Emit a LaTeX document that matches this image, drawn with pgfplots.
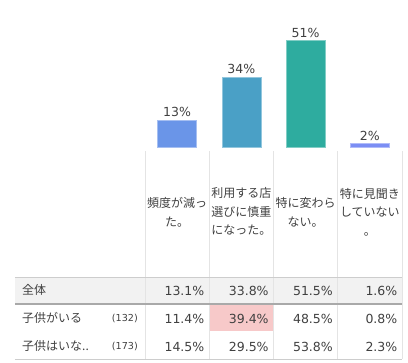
\documentclass[border=0pt]{standalone}
\usepackage{fontspec}
\setmainfont{DejaVu Sans}
\newfontfamily\jp{Noto Sans CJK JP}
\usepackage{pgfplots}
\pgfplotsset{compat=1.18}
\definecolor{cA}{HTML}{6A95E8}
\definecolor{cB}{HTML}{4AA0C6}
\definecolor{cC}{HTML}{2EAC9F}
\definecolor{cD}{HTML}{7B8EF4}
\definecolor{txt}{HTML}{404040}
\definecolor{gridc}{HTML}{E4E4E4}
\definecolor{rowbg}{HTML}{F2F2F2}
\definecolor{pinkc}{HTML}{F7C9C9}
\definecolor{thickc}{HTML}{A9A9A9}
\begin{document}
\begin{tikzpicture}
\begin{axis}[scale only axis, width=257pt, height=147pt,
  xmin=-0.5, xmax=3.5, ymin=0, ymax=70.74, hide axis, clip=false,
  nodes near coords, point meta=explicit symbolic,
  every node near coord/.append style={font=\fontsize{12.5}{15}\selectfont, text=txt, anchor=south, inner sep=2.5pt},
  ]
\addplot[ybar, bar width=39pt, bar shift=0pt, fill=cA, draw=cA!60!white] coordinates {(0,13.1) [13\%]};
\addplot[ybar, bar width=39pt, bar shift=0pt, fill=cB, draw=cB!60!white] coordinates {(1,33.8) [34\%]};
\addplot[ybar, bar width=39pt, bar shift=0pt, fill=cC, draw=cC!60!white] coordinates {(2,51.5) [51\%]};
\addplot[ybar, bar width=39pt, bar shift=0pt, fill=cD, draw=cD!60!white] coordinates {(3,1.6) [2\%]};
\coordinate (O) at (axis cs:-0.5,0);
\end{axis}
\begin{scope}[shift={(O)}, xshift=-145pt, yshift=147pt, x=1pt, y=-1pt]
  \path (0,0) rectangle (408,363);
  % row backgrounds
  \fill[rowbg] (15,277) rectangle (402,303.5);
  \fill[pinkc] (209.25,305) rectangle (273.5,331.5);
  % vertical separators
  \foreach \xx in {145,209.25,273.5,337.75,402}
    \draw[gridc, line width=0.8pt] (\xx,151) -- (\xx,359);
  % horizontal lines
  \draw[gridc!90!black, line width=0.8pt] (15,277) -- (402,277);
  \draw[thickc, line width=1.6pt] (15,303.8) -- (402,303.8);
  \draw[gridc!90!black, line width=0.8pt] (15,359) -- (402,359);
  % category labels
  \tikzset{cat/.style={align=center, text=txt, font=\jp\fontsize{12}{18.5}\selectfont, inner sep=0pt}}
  \node[cat] at (177.1,212.5) {頻度が減っ\\た。};
  \node[cat] at (241.4,211.5) {利用する店\\選びに慎重\\になった。};
  \node[cat] at (305.6,212.5) {特に変わら\\ない。};
  \node[cat] at (369.9,212) {特に見聞き\\していない\\。};
  % row labels
  \tikzset{rl/.style={anchor=west, text=txt, font=\jp\fontsize{12}{14}\selectfont, inner sep=0pt},
           nn/.style={anchor=east, text=txt, font=\fontsize{9.6}{11}\selectfont, inner sep=0pt},
           vv/.style={anchor=east, text=txt, font=\fontsize{12.5}{15}\selectfont, inner sep=0pt}}
  \node[rl] at (22,290) {全体};
  \node[rl] at (22,318) {子供がいる};
  \node[rl] at (22,346) {子供はいな..};
  \node[nn] at (138,318.5) {(132)};
  \node[nn] at (138,346.5) {(173)};
  % values
  \node[vv] at (204.5,291) {13.1\%};
  \node[vv] at (268.8,291) {33.8\%};
  \node[vv] at (333,291) {51.5\%};
  \node[vv] at (397.5,291) {1.6\%};
  \node[vv] at (204.5,318.5) {11.4\%};
  \node[vv] at (268.8,318.5) {39.4\%};
  \node[vv] at (333,318.5) {48.5\%};
  \node[vv] at (397.5,318.5) {0.8\%};
  \node[vv] at (204.5,346.5) {14.5\%};
  \node[vv] at (268.8,346.5) {29.5\%};
  \node[vv] at (333,346.5) {53.8\%};
  \node[vv] at (397.5,346.5) {2.3\%};
\end{scope}
\end{tikzpicture}
\end{document}
